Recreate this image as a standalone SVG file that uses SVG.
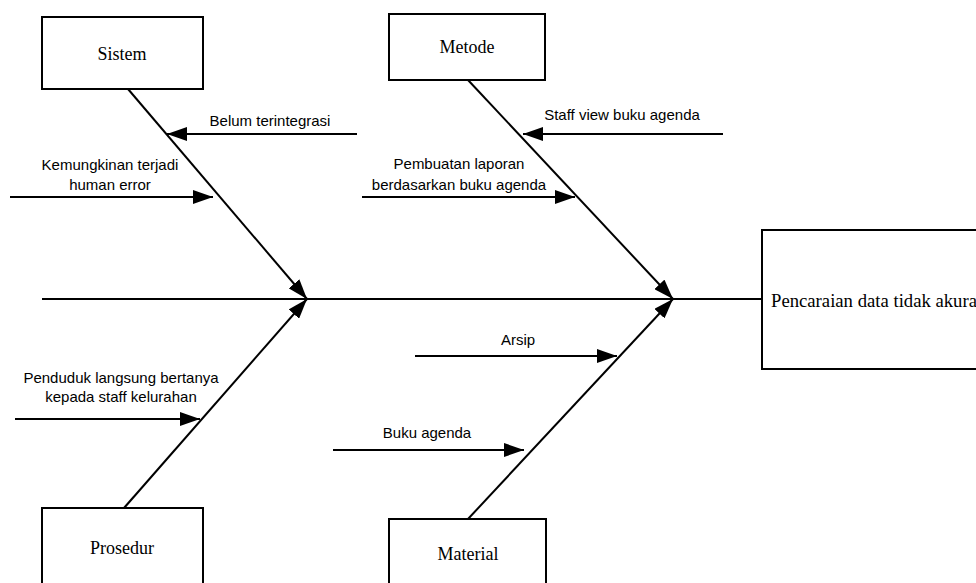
<svg xmlns="http://www.w3.org/2000/svg" width="976" height="583" viewBox="0 0 976 583">
  <style>
    .box { fill: #ffffff; stroke: #000000; stroke-width: 2; }
    .cat { font-family: "Liberation Serif", "Times New Roman", serif; font-size: 18px; fill: #000000; text-anchor: middle; }
    .lbl { font-family: "Liberation Sans", Arial, sans-serif; font-size: 15px; fill: #000000; text-anchor: middle; }
    .ln { stroke: #000000; stroke-width: 2; fill: none; }
    .arr { marker-end: url(#ah); }
  </style>
  <defs>
    <marker id="ah" markerUnits="userSpaceOnUse" markerWidth="20" markerHeight="14" refX="20" refY="7" orient="auto">
      <path d="M0,0 L20,7 L0,14 Z" fill="#000000"/>
    </marker>
  </defs>
  <rect width="976" height="583" fill="#ffffff"/>

  <g id="connectors">
    <!-- main spine -->
    <line class="ln" x1="42" y1="299" x2="762" y2="299"/>
    <!-- category bones -->
    <line class="ln arr" x1="128" y1="89" x2="307" y2="299"/>
    <line class="ln arr" x1="124" y1="508" x2="307" y2="299"/>
    <line class="ln arr" x1="468" y1="80" x2="673" y2="299"/>
    <line class="ln arr" x1="468" y1="519" x2="673" y2="299"/>
    <!-- cause arrows -->
    <line class="ln arr" x1="357" y1="134" x2="167" y2="134"/>
    <line class="ln arr" x1="10" y1="197" x2="213" y2="197"/>
    <line class="ln arr" x1="723" y1="134" x2="523" y2="134"/>
    <line class="ln arr" x1="362" y1="197" x2="575" y2="197"/>
    <line class="ln arr" x1="15" y1="419" x2="200" y2="419"/>
    <line class="ln arr" x1="415" y1="356" x2="617" y2="356"/>
    <line class="ln arr" x1="333" y1="450" x2="524" y2="450"/>
  </g>

  <g id="labels">
    <text class="lbl" x="270" y="126">Belum terintegrasi</text>
    <text class="lbl" x="110" y="170">Kemungkinan terjadi</text>
    <text class="lbl" x="110" y="190">human error</text>
    <text class="lbl" x="622" y="120">Staff view buku agenda</text>
    <text class="lbl" x="459" y="169">Pembuatan laporan</text>
    <text class="lbl" x="459" y="190">berdasarkan buku agenda</text>
    <text class="lbl" x="121" y="383">Penduduk langsung bertanya</text>
    <text class="lbl" x="121" y="402">kepada staff kelurahan</text>
    <text class="lbl" x="518" y="345">Arsip</text>
    <text class="lbl" x="427" y="438">Buku agenda</text>
  </g>

  <g id="sistem">
    <rect class="box" x="42" y="17" width="161" height="72"/>
    <text class="cat" x="122" y="60">Sistem</text>
  </g>
  <g id="metode">
    <rect class="box" x="389" y="14" width="156" height="66"/>
    <text class="cat" x="467" y="53">Metode</text>
  </g>
  <g id="prosedur">
    <rect class="box" x="42" y="508" width="161" height="100"/>
    <text class="cat" x="122" y="554">Prosedur</text>
  </g>
  <g id="material">
    <rect class="box" x="389" y="519" width="157" height="100"/>
    <text class="cat" x="468" y="560">Material</text>
  </g>
  <g id="effect">
    <rect class="box" x="762" y="230" width="240" height="139"/>
    <text class="cat" x="771" y="307" style="text-anchor:start;font-size:18.7px">Pencaraian data tidak akura</text>
  </g>
</svg>
